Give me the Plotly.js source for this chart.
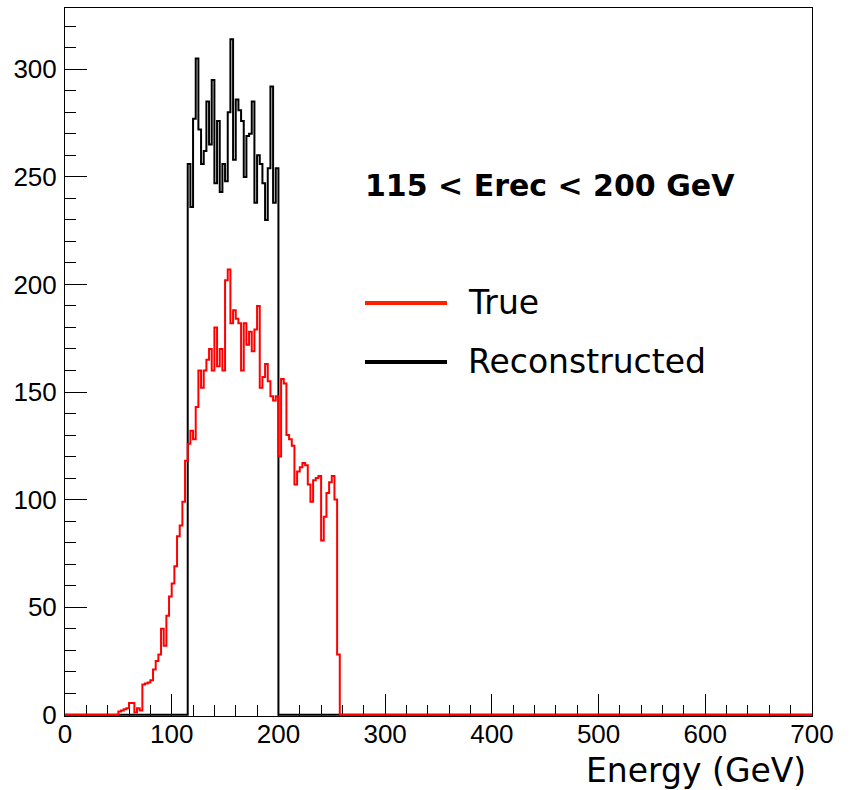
<!DOCTYPE html>
<html>
<head>
<meta charset="utf-8">
<script src="https://cdn.plot.ly/plotly-3.0.1.min.js"></script>
<style>html,body{margin:0;padding:0;background:#fff;}#chart{width:850px;height:790px;}</style>
</head>
<body>
<div id="chart"></div>
<script>
// ---- data ----
const xMin = 0;
const xMax = 700;
const binWidth = 2.5; // GeV
const trueStart = 50;   // first non-empty bin of the True histogram
const trueCounts = [
  1.5, 2, 2.5, 3, 5.5, 5.5, 1, 3, 2, 14,
  14.5, 15, 16, 21, 25, 28, 40, 32, 46, 55,
  61, 69, 83, 88, 99, 118, 126, 132, 128, 143,
  160, 152, 160, 165, 170, 160, 180, 162, 170, 160,
  202, 207, 182, 188, 184, 182, 160, 182, 172, 178,
  169, 179, 190, 152, 157, 163, 155, 148, 146, 148,
  120, 156, 154, 130, 128, 125, 107, 113, 115, 117,
  116, 107, 99, 109, 110, 111, 81, 92, 103, 108,
  111, 100, 28
];
const recoStart = 115;  // first non-empty bin of the Reconstructed histogram
const recoCounts = [
  256, 236, 277, 305, 272, 256, 262, 285, 265, 295,
  247, 276, 243, 256, 248, 280, 314, 258, 286, 281,
  276, 250, 269, 270, 285, 238, 260, 256, 247, 230,
  254, 292, 238, 254
];
const xTickVals = [0, 100, 200, 300, 400, 500, 600, 700];
const yTickVals = [0, 50, 100, 150, 200, 250, 300];
const seriesNames = ['True', 'Reconstructed'];
const xTitle = 'Energy (GeV)';
const cutLabel = '115 < Erec < 200 GeV';

// ---- build step outlines over the full axis range ----
function stepOutline(start, counts) {
  const xs = [], ys = [];
  const nBins = Math.round((xMax - xMin) / binWidth);
  for (let i = 0; i < nBins; i++) {
    const edge = xMin + i * binWidth;
    const k = Math.round((edge - start) / binWidth);
    xs.push(edge);
    ys.push(k >= 0 && k < counts.length ? counts[k] : 0);
  }
  xs.push(xMax);
  ys.push(ys[ys.length - 1]);
  return {xs, ys};
}
const reco = stepOutline(recoStart, recoCounts);
const tru = stepOutline(trueStart, trueCounts);

const traces = [
  {x: reco.xs, y: reco.ys, type: 'scatter', mode: 'lines', name: seriesNames[1],
   line: {color: '#000000', width: 2, shape: 'hv'}, showlegend: false, hoverinfo: 'skip'},
  {x: tru.xs, y: tru.ys, type: 'scatter', mode: 'lines', name: seriesNames[0],
   line: {color: '#ff0000', width: 2, shape: 'hv'}, showlegend: false, hoverinfo: 'skip'}
];

const tickFont = {family: 'Liberation Sans, Arial, sans-serif', size: 26, color: '#000'};
const textFont = 'DejaVu Sans, sans-serif';

const layout = {
  width: 850, height: 790,
  margin: {l: 65, r: 38, t: 8, b: 74, pad: 0},
  paper_bgcolor: '#ffffff', plot_bgcolor: '#ffffff',
  showlegend: false,
  xaxis: {
    range: [xMin, xMax], tickvals: xTickVals, ticktext: xTickVals.map(String),
    ticks: 'inside', ticklen: 22, tickwidth: 1, tickcolor: '#000',
    minor: {dtick: 20, tick0: 0, ticks: 'inside', ticklen: 11, tickwidth: 1, tickcolor: '#000', showgrid: false},
    showline: true, linecolor: '#000', linewidth: 1, mirror: true, layer: 'below traces',
    showgrid: false, zeroline: false, tickfont: tickFont, ticklabelstandoff: -5, fixedrange: true
  },
  yaxis: {
    range: [-0.6, 328.5], tickvals: yTickVals, ticktext: yTickVals.map(String),
    ticks: 'inside', ticklen: 22, tickwidth: 1, tickcolor: '#000',
    minor: {dtick: 10, tick0: 0, ticks: 'inside', ticklen: 11, tickwidth: 1, tickcolor: '#000', showgrid: false},
    showline: true, linecolor: '#000', linewidth: 1, mirror: true, layer: 'below traces',
    showgrid: false, zeroline: false, tickfont: tickFont, ticklabelstandoff: 2, fixedrange: true
  },
  shapes: [
    {type: 'line', xref: 'paper', yref: 'paper', x0: 0.4016, x1: 0.5114, y0: 0.5833, y1: 0.5833,
     line: {color: '#ff2200', width: 4}},
    {type: 'line', xref: 'paper', yref: 'paper', x0: 0.4016, x1: 0.5114, y0: 0.5, y1: 0.5,
     line: {color: '#000000', width: 4}}
  ],
  annotations: [
    {text: seriesNames[0], xref: 'paper', yref: 'paper', x: 0.5368, y: 0.5847,
     xanchor: 'left', yanchor: 'middle', showarrow: false, font: {family: textFont, size: 33, color: '#000'}},
    {text: seriesNames[1], xref: 'paper', yref: 'paper', x: 0.5368, y: 0.5014,
     xanchor: 'left', yanchor: 'middle', showarrow: false, font: {family: textFont, size: 33, color: '#000'}},
    {text: '<b>' + cutLabel.replace(/</g, '&lt;') + '</b>', xref: 'paper', yref: 'paper', x: 0.399, y: 0.7486,
     xanchor: 'left', yanchor: 'middle', showarrow: false, font: {family: textFont, size: 30, color: '#000'}},
    {text: xTitle, xref: 'paper', yref: 'paper', x: 0.9946, y: -0.0763,
     xanchor: 'right', yanchor: 'middle', showarrow: false, font: {family: textFont, size: 33, color: '#000'}}
  ]
};

Plotly.newPlot('chart', traces, layout, {staticPlot: true, displayModeBar: false});
</script>
</body>
</html>
